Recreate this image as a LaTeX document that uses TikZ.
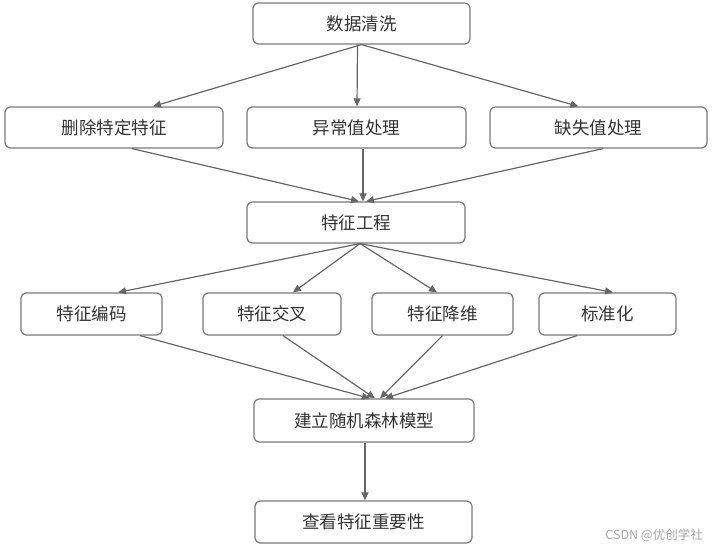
\documentclass[tikz,border=0pt]{standalone}
\usepackage{fontspec}
\setmainfont{Noto Sans CJK SC}
\usetikzlibrary{arrows.meta}
\definecolor{boxline}{HTML}{7A7A7A}
\definecolor{arrline}{HTML}{666666}
\definecolor{txt}{HTML}{333333}
\tikzset{
  box/.style={draw=boxline, line width=1.2pt, rounded corners=5pt, inner sep=0pt,
    text=txt, font=\fontsize{17.5}{17.5}\selectfont},
  arr/.style={draw=arrline, line width=1.2pt, -{Triangle[length=8pt,width=7pt]}}
}
\begin{document}
\begin{tikzpicture}[x=1pt,y=-1pt]
\useasboundingbox (0,0) rectangle (715,548);
\node[box, minimum width=217pt, minimum height=41pt] (clean) at (361.5,23.5) {数据清洗};
\node[box, minimum width=218pt, minimum height=41pt] (del) at (114,127.5) {删除特定特征};
\node[box, minimum width=219pt, minimum height=41pt] (outl) at (356.5,127.5) {异常值处理};
\node[box, minimum width=217pt, minimum height=41pt] (miss) at (598.5,127.5) {缺失值处理};
\node[box, minimum width=218pt, minimum height=41pt] (fe) at (356,222.5) {特征工程};
\node[box, minimum width=141pt, minimum height=42pt] (enc) at (91.5,314) {特征编码};
\node[box, minimum width=138pt, minimum height=42pt] (cross) at (272,314) {特征交叉};
\node[box, minimum width=141pt, minimum height=42pt] (dim) at (442.5,314) {特征降维};
\node[box, minimum width=137pt, minimum height=42pt] (std) at (607.5,314) {标准化};
\node[box, minimum width=220pt, minimum height=43pt] (rf) at (364,420.5) {建立随机森林模型};
\node[box, minimum width=217pt, minimum height=42pt] (imp) at (363.5,522) {查看特征重要性};
\node[anchor=east, text=black!35, font=\fontsize{12.5}{12.5}\selectfont, inner sep=0pt] (wm) at (703,535) {CSDN @优创学社};

\draw[arr] (clean.south) -- ([xshift=39pt]del.north);
\draw[arr] ([xshift=-4pt]clean.south) -- ([xshift=0.5pt]outl.north);
\draw[arr] (clean.south) -- ([xshift=-20pt]miss.north);

\draw[arr] ([xshift=18pt]del.south) -- ([xshift=3pt]fe.north);
\draw[arr] ([xshift=6.5pt]outl.south) -- ([xshift=7pt]fe.north);
\draw[arr] ([xshift=4.5pt]miss.south) -- ([xshift=10pt]fe.north);

\draw[arr] ([xshift=4pt]fe.south) -- ([xshift=26.5pt]enc.north);
\draw[arr] ([xshift=4pt]fe.south) -- ([xshift=21pt]cross.north);
\draw[arr] ([xshift=4pt]fe.south) -- ([xshift=-5.5pt]dim.north);
\draw[arr] ([xshift=4pt]fe.south) -- ([xshift=5.5pt]std.north);

\draw[arr] ([xshift=48.5pt]enc.south) -- ([xshift=6pt]rf.north);
\draw[arr] ([xshift=11pt]cross.south) -- ([xshift=11pt]rf.north);
\draw[arr] (dim.south) -- ([xshift=16pt]rf.north);
\draw[arr] ([xshift=-30.5pt]std.south) -- ([xshift=21pt]rf.north);

\draw[arr] ([xshift=1pt]rf.south) -- ([xshift=1.5pt]imp.north);
\end{tikzpicture}
\end{document}
